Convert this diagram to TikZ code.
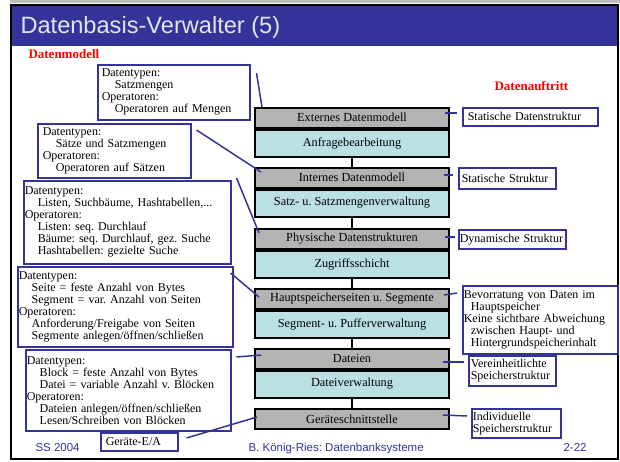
\documentclass[tikz,border=0pt]{standalone}
\usepackage{fontspec}
\setmainfont{Liberation Serif}
\setsansfont{Liberation Sans}
\frenchspacing
\usetikzlibrary{calc}
\definecolor{folienblau}{RGB}{51,51,153}
\definecolor{titelweiss}{RGB}{228,228,236}
\definecolor{schichtgrau}{RGB}{179,179,179}
\definecolor{diensttuerkis}{RGB}{187,224,227}
\newcommand{\ein}{\hspace*{13pt}}
\tikzset{
	schicht/.style={draw=black, line width=2pt, fill=schichtgrau, minimum width=194pt,
		minimum height=19.5pt, inner sep=0pt, anchor=north, font=\fontsize{12.3}{13}\selectfont},
	dienst/.style={schicht, fill=diensttuerkis, minimum height=27pt},
	info/.style={draw=folienblau, line width=1.5pt, fill=white, anchor=north west, align=left,
		inner ysep=0pt, font=\fontsize{12}{12}\selectfont},
	verb/.style={draw=folienblau, line width=1.5pt},
	steg/.style={draw=black, line width=2pt},
	fuss/.style={anchor=base west, text=folienblau, font=\sffamily\fontsize{11.5}{12}\selectfont},
	rubrik/.style={anchor=base west, text=red, font=\bfseries\fontsize{13}{14}\selectfont},
}

\begin{document}
\begin{tikzpicture}[x=1pt, y=-1pt]
	\useasboundingbox (0,0) rectangle (620,461);
	% Folienrahmen und Titel
	\fill[black!25] (10,0) rectangle (620,3);
	\fill[folienblau] (11,4.5) rectangle (618.3,46);
	\draw[line width=2pt] (11,4.5) rectangle (618.3,459.3);
	\node[anchor=base west, text=titelweiss, font=\sffamily\fontsize{23.6}{28}\selectfont] (titel) at (17,33) {Datenbasis-Verwalter (5)};
	\node[rubrik] (modell) at (25,58.3) {Datenmodell};
	\node[rubrik] (auftritt) at (491,90.5) {Datenauftritt};

	% Schichten
	\node[schicht] (ext) at (352,107) {Externes Datenmodell};
	\node[dienst] (anf) at (ext.south) {Anfragebearbeitung};
	\node[schicht] (int) at (352,167) {Internes Datenmodell};
	\node[dienst] (satz) at (int.south) {Satz- u. Satzmengenverwaltung};
	\node[schicht] (phys) at (352,228) {Physische Datenstrukturen};
	\node[dienst] (zugr) at (phys.south) {Zugriffsschicht};
	\node[schicht] (haupt) at (352,288) {Hauptspeicherseiten u. Segmente};
	\node[dienst] (puffer) at (haupt.south) {Segment- u. Pufferverwaltung};
	\node[schicht] (dat) at (352,348) {Dateien};
	\node[dienst] (dverw) at (dat.south) {Dateiverwaltung};
	\node[schicht, minimum height=20pt] (ger) at (352,408) {Geräteschnittstelle};
	\draw[steg] (anf.south) -- (int.north);
	\draw[steg] (satz.south) -- (phys.north);
	\draw[steg] (zugr.south) -- (haupt.north);
	\draw[steg] (puffer.south) -- (dat.north);
	\draw[steg] (dverw.south) -- (ger.north);

	% Datenmodell (links)
	\node[info, inner xsep=4pt, text width=144pt, minimum height=55pt] (dt1) at (97,64)
		{Datentypen:\\\ein Satzmengen\\Operatoren:\\\ein Operatoren auf Mengen};
	\node[info, inner xsep=5pt, text width=143pt, minimum height=54pt] (dt2) at (37,123)
		{Datentypen:\\\ein Sätze und Satzmengen\\Operatoren:\\\ein Operatoren auf Sätzen};
	\node[info, inner xsep=1pt, text width=205pt, minimum height=83pt] (dt3) at (23,180)
		{Datentypen:\\\ein Listen, Suchbäume, Hashtabellen,...\\Operatoren:\\\ein Listen: seq. Durchlauf\\\ein Bäume: seq. Durchlauf, gez. Suche\\\ein Hashtabellen: gezielte Suche};
	\node[info, inner xsep=1pt, text width=213pt, minimum height=80pt] (dt4) at (17,266)
		{Datentypen:\\\ein Seite = feste Anzahl von Bytes\\\ein Segment = var. Anzahl von Seiten\\Operatoren:\\\ein Anforderung/Freigabe von Seiten\\\ein Segmente anlegen/öffnen/schließen};
	\node[info, inner xsep=1pt, text width=203pt, minimum height=81pt] (dt5) at (25,349)
		{Datentypen:\\\ein Block = feste Anzahl von Bytes\\\ein Datei = variable Anzahl v. Blöcken\\Operatoren:\\\ein Dateien anlegen/öffnen/schließen\\\ein Lesen/Schreiben von Blöcken};
	\node[info, inner xsep=5pt, text width=67pt, minimum height=18pt] (dt6) at (100,432) {Geräte-E/A};
	\draw[verb] ($(dt1.north east)+(6,9)$) -- ($(ext.north west)+(8,0)$);
	\draw[verb] ($(dt2.north east)+(5,7)$) -- ($(int.north west)+(7,5)$);
	\draw[verb] ($(dt3.north east)+(5,-2)$) -- ($(phys.north west)+(5,5)$);
	\draw[verb] ($(dt4.north east)+(-3,7)$) -- ($(haupt.north west)+(5,9)$);
	\draw[verb] ($(dt5.north east)+(5,8)$) -- ($(dat.north west)+(7,7)$);
	\draw[verb] ($(dt6.north east)+(8,6)$) -- ($(ger.north west)+(3,9)$);

	% Datenauftritt (rechts)
	\node[info, inner xsep=5pt, text width=125pt, minimum height=18pt] (r1) at (462,107) {Statische Datenstruktur};
	\node[info, inner xsep=3pt, text width=91pt, minimum height=21pt] (r2) at (458,167) {Statische Struktur};
	\node[info, inner xsep=1pt, text width=105pt, minimum height=19pt] (r3) at (458,229) {Dynamische Struktur};
	\node[info, inner xsep=1pt, text width=153pt, minimum height=68pt] (r4) at (462,285)
		{Bevorratung von Daten im\\\hspace*{7pt}Hauptspeicher\\Keine sichtbare Abweichung\\\hspace*{7pt}zwischen Haupt- und\\\hspace*{7pt}Hintergrundspeicherinhalt};
	\node[info, inner xsep=2pt, text width=83pt, minimum height=30pt] (r5) at (468,355) {Vereinheitlichte\\Speicherstruktur};
	\node[info, inner xsep=1pt, text width=87pt, minimum height=29pt] (r6) at (471,408) {Individuelle\\Speicherstruktur};
	\draw[verb] ($(ext.north east)+(-5,6)$) -- ($(r1.north west)+(-5,6)$);
	\draw[verb] ($(int.north east)+(-6,8)$) -- ($(r2.north west)+(-5,8)$);
	\draw[verb] ($(phys.north east)+(-5,9)$) -- ($(r3.north west)+(-3,8)$);
	\draw[verb] ($(haupt.north east)+(-6,7)$) -- ($(r4.north west)+(-5,8)$);
	\draw[verb] ($(dat.north east)+(-7,14)$) -- ($(r5.north west)+(-4,7)$);
	\draw[verb] ($(ger.north east)+(-7,7)$) -- ($(r6.north west)+(-4,8)$);

	% Fusszeile
	\node[fuss] (semester) at (32,451) {SS 2004};
	\node[fuss] (autor) at (245,451) {B. König-Ries: Datenbanksysteme};
	\node[fuss] (seite) at (560,451) {2-22};
\end{tikzpicture}
\end{document}
